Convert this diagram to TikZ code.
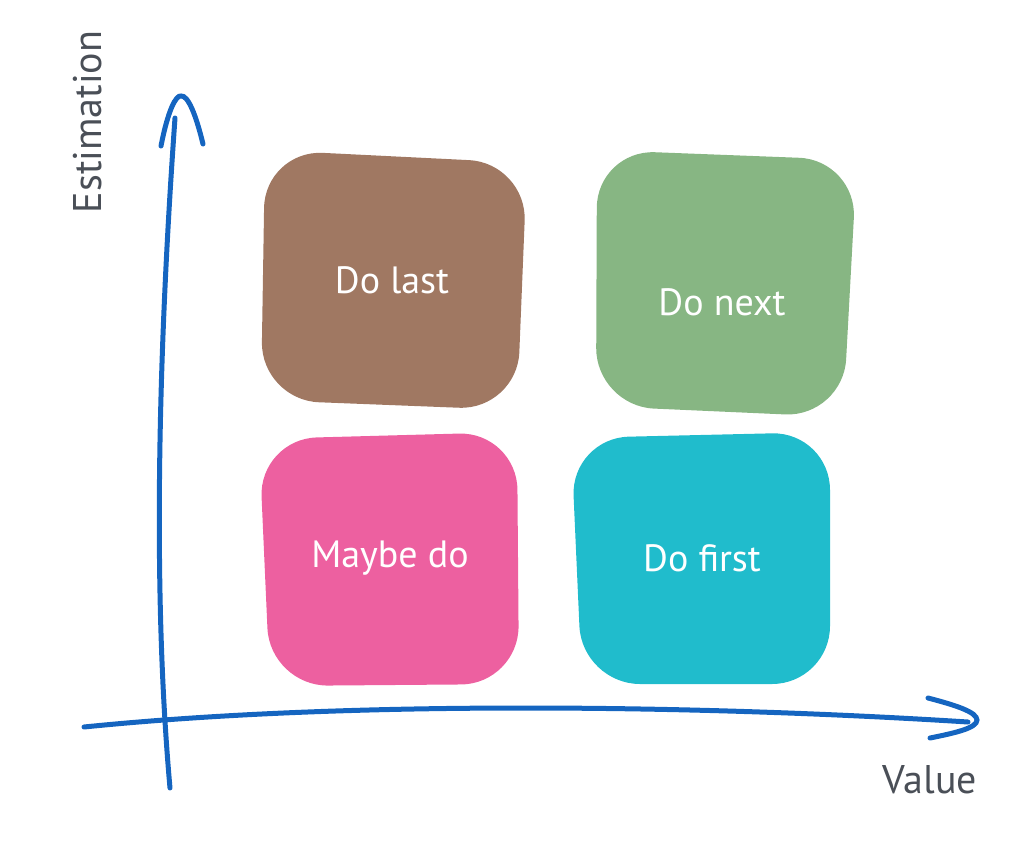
\documentclass[tikz,border=0pt]{standalone}
\usepackage{fontspec}
\setmainfont{PT Sans}
\definecolor{axisblue}{HTML}{1565C0}
\definecolor{brownbox}{HTML}{A07862}
\definecolor{greenbox}{HTML}{87B683}
\definecolor{pinkbox}{HTML}{ED60A0}
\definecolor{cyanbox}{HTML}{20BCCC}
\definecolor{labelgray}{HTML}{4A4F57}
\tikzset{
  axisline/.style={draw=axisblue, line width=5pt, line cap=round},
  blob/.style={rounded corners=58pt},
  boxlabel/.style={text=white, font=\fontsize{38}{44}\selectfont},
  axislabel/.style={text=labelgray, font=\fontsize{40}{46}\selectfont},
}
\begin{document}
\begin{tikzpicture}[x=1pt,y=-1pt]
\useasboundingbox (0,0) rectangle (1010,846);
% boxes
\fill[brownbox, blob] (265,150) -- (527,163) -- (517,410) -- (261,400) -- cycle;
\fill[greenbox, blob] (597,150) -- (857,160) -- (843,417) -- (596,406) -- cycle;
\fill[pinkbox, blob] (259,439) -- (517,432) -- (519,684) -- (270,686) -- cycle;
\fill[cyanbox, blob] (571,438) -- (830,432) -- (830,684) -- (582,684) -- cycle;
\node[boxlabel] (last) at (392,280) {Do last};
\node[boxlabel] (next) at (722,302) {Do next};
\node[boxlabel] (maybe) at (390,558) {Maybe do};
\node[boxlabel] (first) at (702,558) {Do first};
% axes
\coordinate (ytop) at (175,118);
\coordinate (ybot) at (170,788);
\draw[axisline] (ytop) .. controls (155,400) and (155,620) .. (ybot);
\draw[axisline] (161,146) .. controls (168,110) and (176,95) .. (181,96) .. controls (188,95) and (196,115) .. (203,144);
\coordinate (xleft) at (84,727);
\coordinate (xright) at (968,722);
\draw[axisline] (xleft) .. controls (350,700) and (700,705) .. (xright);
\draw[axisline] (928,698) .. controls (955,705) and (977,712) .. (977,720) .. controls (977,728) and (955,733) .. (930,738);
% labels
\node[axislabel, rotate=90] (est) at (88,122) {Estimation};
\node[axislabel] (val) at (930,780) {Value};
\end{tikzpicture}
\end{document}
